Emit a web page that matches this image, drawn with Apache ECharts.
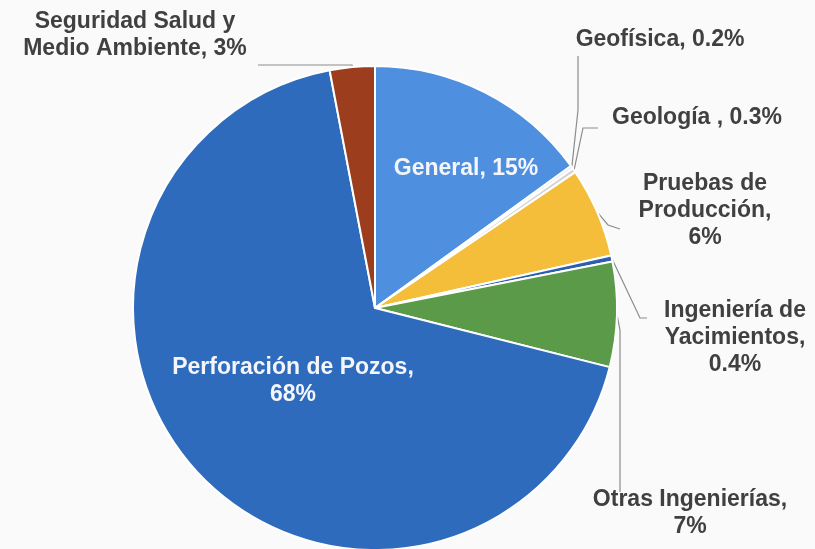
<!DOCTYPE html>
<html>
<head>
<meta charset="utf-8">
<script src="https://cdn.jsdelivr.net/npm/echarts@6/dist/echarts.min.js"></script>
<style>
  html, body { margin: 0; padding: 0; background: #fafafa; }
  #chart { width: 815px; height: 549px; }
</style>
</head>
<body>
<div id="chart"></div>
<script>
// datos del gráfico (porcentajes, en sentido horario desde arriba)
var categories = ['General', 'Geofísica', 'Geología ', 'Pruebas de Producción', 'Ingeniería de Yacimientos', 'Otras Ingenierías', 'Perforación de Pozos', 'Seguridad Salud y Medio Ambiente'];
var values = [15, 0.2, 0.3, 6, 0.4, 7, 68, 3];
var labelTexts = ['General, 15%', 'Geofísica, 0.2%', 'Geología , 0.3%', 'Pruebas de\nProducción,\n6%', 'Ingeniería de\nYacimientos,\n0.4%', 'Otras Ingenierías,\n7%', 'Perforación de Pozos,\n68%', 'Seguridad Salud y\nMedio Ambiente, 3%'];
var colors = ['#4f8fe0', '#e6e6e6', '#d4d4d4', '#f4bd3a', '#2a5fb0', '#5a9a48', '#2e6bbd', '#9c3d1d'];
var insideIdx = [0, 6];

// posición de las etiquetas
var labelPos = [[466, 169], [660, 40], [697, 118], [705, 211], [735, 338], [690, 513], [293, 381], [135, 35]];
var leaderPts = [null, [[578, 110], [578, 56]], [[583, 128], [598, 128]], [[608, 225], [620, 229]],
                 [[640, 318], [647, 318]], [[620, 330], [620, 492]], null, [[352, 65], [258, 65]]];

var chart = echarts.init(document.getElementById('chart'));

var option = {
    backgroundColor: '#fafafa',
    animation: false,
    series: [
        {
            type: 'pie',
            center: [375, 308],
            radius: 242,
            startAngle: 90,
            clockwise: true,
            avoidLabelOverlap: false,
            itemStyle: {
                borderColor: '#ffffff',
                borderWidth: 2
            },
            label: {
                show: true,
                position: 'outside',
                color: '#404040',
                fontFamily: "'Liberation Sans'",
                fontWeight: 'bold',
                fontSize: 23,
                lineHeight: 27,
                align: 'center',
                formatter: function (p) { return labelTexts[p.dataIndex]; }
            },
            labelLine: {
                show: true,
                lineStyle: { color: '#8c8c8c', width: 1.2 }
            },
            labelLayout: function (p) {
                var i = p.dataIndex;
                var res = {
                    x: labelPos[i][0],
                    y: labelPos[i][1],
                    align: 'center',
                    verticalAlign: 'middle'
                };
                if (leaderPts[i] && p.labelLinePoints) {
                    res.labelLinePoints = [p.labelLinePoints[0], leaderPts[i][0], leaderPts[i][1]];
                }
                return res;
            },
            data: categories.map(function (name, i) {
                var inside = insideIdx.indexOf(i) >= 0;
                return {
                    name: name,
                    value: values[i],
                    itemStyle: { color: colors[i] },
                    label: inside ? { position: 'inside', color: '#f4f6fa' } : {},
                    labelLine: inside ? { show: false } : {}
                };
            })
        }
    ]
};

chart.setOption(option);
</script>
</body>
</html>
